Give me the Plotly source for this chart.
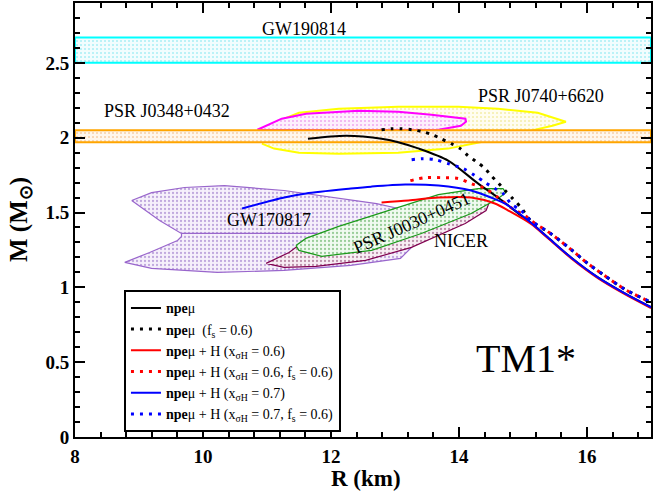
import plotly.graph_objects as go

# ---------------- data ----------------
# observational bands (M in solar masses)
gw190814_band = [2.50, 2.67]
j0348_band = [1.97, 2.05]
band_r = [8, 17]

# PSR J0740+6620 contours (R km, M)
j0740_yellow_r = [10.91, 11.11, 11.50, 12.12, 13.05, 13.99, 14.61, 15.23, 15.67, 15.46, 14.92, 14.45, 13.83, 13.05, 12.12, 11.50, 11.11, 10.92]
j0740_yellow_m = [2.007, 2.10, 2.167, 2.193, 2.207, 2.207, 2.193, 2.167, 2.107, 2.08, 2.027, 1.98, 1.927, 1.90, 1.893, 1.90, 1.927, 1.96]
j0740_magenta_r = [10.85, 11.23, 11.61, 12.43, 13.05, 13.57, 14.10, 14.11, 14.03, 13.68, 12.5, 11.5, 10.85]
j0740_magenta_m = [2.053, 2.127, 2.16, 2.18, 2.173, 2.153, 2.127, 2.107, 2.08, 2.053, 2.05, 2.05, 2.053]

# GW170817 contour (two lobes)
gw170817_r = [8.886, 9.197, 9.711, 10.333, 11.266, 12.044, 12.712, 13.054, 13.241, 13.288, 13.288, 13.085, 12.308, 11.266, 10.224, 9.197, 8.778, 9.166, 9.602, 9.664, 9.664, 9.322, 8.886]
gw170817_m = [1.58, 1.633, 1.667, 1.68, 1.647, 1.60, 1.56, 1.527, 1.48, 1.38, 1.28, 1.193, 1.147, 1.113, 1.10, 1.127, 1.167, 1.233, 1.313, 1.34, 1.36, 1.447, 1.58]
gw170817_div_r = [9.664, 11.779]
gw170817_div_m = [1.36, 1.36]

# PSR J0030+0451 contours (NICER)
j0030_maroon_r = [10.986, 11.188, 11.344, 11.453, 12.121, 13.054, 13.988, 14.454, 14.485, 14.423, 14.097, 13.257, 12.541, 11.764, 11.266, 10.986]
j0030_maroon_m = [1.16, 1.20, 1.233, 1.267, 1.367, 1.487, 1.593, 1.633, 1.58, 1.513, 1.427, 1.267, 1.18, 1.14, 1.133, 1.16]
j0030_green_r = [11.453, 11.608, 12.121, 12.899, 13.677, 14.299, 14.687, 14.734, 14.610, 14.190, 13.412, 12.634, 11.857, 11.499, 11.453]
j0030_green_m = [1.28, 1.327, 1.407, 1.513, 1.62, 1.66, 1.66, 1.633, 1.593, 1.493, 1.36, 1.247, 1.207, 1.247, 1.28]

# M-R curves
npe_r = [11.64, 12.0, 12.23, 12.5, 12.79, 13.05, 13.35, 13.83, 14.30, 14.61, 14.97, 15.12, 15.39, 15.75, 16.17, 16.59, 17.0]
npe_m = [1.993, 2.008, 2.013, 2.008, 1.993, 1.97, 1.93, 1.847, 1.693, 1.60, 1.48, 1.433, 1.333, 1.20, 1.067, 0.96, 0.867]

npe_fs_r = [12.79, 12.95, 13.10, 13.27, 13.43, 13.58, 13.72, 13.88, 14.02, 14.14, 14.27, 14.41, 14.50, 14.61, 14.72, 14.84, 14.97, 15.12, 15.43, 15.75, 16.01, 16.27, 16.59, 16.90, 17.0]
npe_fs_m = [2.053, 2.06, 2.06, 2.053, 2.04, 2.02, 1.993, 1.96, 1.927, 1.88, 1.84, 1.793, 1.747, 1.70, 1.647, 1.593, 1.533, 1.447, 1.36, 1.253, 1.16, 1.08, 0.987, 0.92, 0.90]

h06_r = [12.79, 13.21, 13.68, 14.19, 14.56, 14.77, 15.12, 15.39, 15.75, 16.17, 16.59, 17.0]
h06_m = [1.567, 1.58, 1.60, 1.60, 1.56, 1.513, 1.425, 1.328, 1.195, 1.062, 0.955, 0.862]

h06_fs_r = [13.24, 13.47, 13.72, 13.99, 14.19, 14.41, 14.61, 14.81, 15.03, 15.12, 15.43, 15.75, 16.01, 16.27, 16.59, 16.90, 17.0]
h06_fs_m = [1.713, 1.733, 1.733, 1.727, 1.693, 1.66, 1.60, 1.533, 1.48, 1.447, 1.36, 1.253, 1.16, 1.08, 0.987, 0.92, 0.90]

h07_r = [10.61, 11.27, 11.61, 12.31, 12.63, 13.16, 13.68, 14.19, 14.50, 14.72, 14.92, 15.12, 15.39, 15.75, 16.17, 16.59, 17.0]
h07_m = [1.527, 1.60, 1.627, 1.66, 1.673, 1.687, 1.68, 1.647, 1.60, 1.56, 1.50, 1.433, 1.333, 1.20, 1.067, 0.96, 0.867]

h07_fs_r = [13.26, 13.44, 13.63, 13.83, 14.07, 14.25, 14.41, 14.56, 14.69, 14.81, 14.97, 15.12, 15.43, 15.75, 16.01, 16.27, 16.59, 16.90, 17.0]
h07_fs_m = [1.853, 1.86, 1.853, 1.827, 1.793, 1.747, 1.70, 1.66, 1.627, 1.56, 1.513, 1.447, 1.36, 1.253, 1.16, 1.08, 0.987, 0.92, 0.90]

legend_names = [
    "<b>npe</b>μ",
    "<b>npe</b>μ  (f<sub>s</sub> = 0.6)",
    "<b>npe</b>μ + H (x<sub>σH</sub> = 0.6)",
    "<b>npe</b>μ + H (x<sub>σH</sub> = 0.6, f<sub>s</sub> = 0.6)",
    "<b>npe</b>μ + H (x<sub>σH</sub> = 0.7)",
    "<b>npe</b>μ + H (x<sub>σH</sub> = 0.7, f<sub>s</sub> = 0.6)",
]

SERIF = "Liberation Serif"

fig = go.Figure()


def region(xs, ys, line_color, fg, bg, lw=1.5, solidity=0.2):
    fig.add_trace(go.Scatter(
        x=xs, y=ys, mode="lines", fill="toself",
        line=dict(color=line_color, width=lw),
        fillcolor=bg,
        fillpattern=dict(shape=".", fgcolor=fg, bgcolor=bg, size=4, solidity=solidity),
        showlegend=False, hoverinfo="skip"))


# bands
region([band_r[0], band_r[1], band_r[1], band_r[0], band_r[0]],
       [gw190814_band[0], gw190814_band[0], gw190814_band[1], gw190814_band[1], gw190814_band[0]],
       "#00ffff", "#60e0ec", "#f2fdfe", 2)

# J0740 contours
region(j0740_yellow_r, j0740_yellow_m, "#ffff00", "#e8dc60", "#fffdf0", 2)
region(j0740_magenta_r, j0740_magenta_m, "#ff00ff", "#e060e0", "#fdf0fd", 2)

region([band_r[0], band_r[1], band_r[1], band_r[0], band_r[0]],
       [j0348_band[0], j0348_band[0], j0348_band[1], j0348_band[1], j0348_band[0]],
       "#ffa500", "#f0a860", "#fef6ec", 2)

# GW170817
region(gw170817_r, gw170817_m, "#9966cc", "#8a60c0", "#f6f0fb", 1.2, 0.25)
fig.add_trace(go.Scatter(x=gw170817_div_r, y=gw170817_div_m, mode="lines",
                         line=dict(color="#9966cc", width=1.2), showlegend=False, hoverinfo="skip"))

# NICER J0030
region(j0030_maroon_r, j0030_maroon_m, "#800050", "#803060", "#f8eef4", 1.2, 0.25)
region(j0030_green_r, j0030_green_m, "#1a9a1a", "#40a040", "#f0faf0", 1.2, 0.25)

# curves
DOT = "3px,6px"
curves = [
    (npe_r, npe_m, "black", "solid"),
    (npe_fs_r, npe_fs_m, "black", DOT),
    (h06_r, h06_m, "#ff0000", "solid"),
    (h06_fs_r, h06_fs_m, "#ff0000", DOT),
    (h07_r, h07_m, "#0000ff", "solid"),
    (h07_fs_r, h07_fs_m, "#0000ff", DOT),
]
for (xs, ys, col, dash), name in zip(curves, legend_names):
    fig.add_trace(go.Scatter(x=xs, y=ys, mode="lines", name=name,
                             line=dict(color=col, width=3 if dash != "solid" else 2, dash=dash, shape="spline", smoothing=0.8),
                             hoverinfo="skip"))

# annotations
def label(x, y, text, size=18, angle=0):
    fig.add_annotation(x=x, y=y, text=text, showarrow=False, textangle=angle,
                       font=dict(family=SERIF, size=size, color="black"))

label(11.58, 2.727, "GW190814")
label(9.43, 2.18, "PSR J0348+0432")
label(15.28, 2.28, "PSR J0740+6620")
label(11.03, 1.447, "GW170817")
label(14.03, 1.313, "NICER")
label(13.26, 1.427, "PSR J0030+0451", angle=-24)
label(15.05, 0.527, "TM1*", size=40)

# axis titles
fig.add_annotation(xref="paper", yref="paper", x=0.505, y=0, yshift=-41, yanchor="middle",
                   text="<b>R (km)</b>", showarrow=False,
                   font=dict(family=SERIF, size=23, color="black"))
fig.add_annotation(xref="paper", yref="paper", x=0, y=0.5, xshift=-55, xanchor="center",
                   text="<b>M (M<sub>⊙</sub>)</b>", showarrow=False, textangle=-90,
                   font=dict(family=SERIF, size=25, color="black"))

axis_common = dict(
    showline=True, linecolor="black", linewidth=2, mirror="ticks",
    ticks="inside", ticklen=10, tickwidth=2, tickcolor="black",
    showgrid=False, zeroline=False,
    tickfont=dict(family=SERIF, size=19, color="black", weight="bold"),
)

fig.update_xaxes(range=[8, 17], dtick=2, tick0=8, ticklabelstandoff=1,
                 minor=dict(dtick=0.4, tick0=8, ticks="inside", ticklen=5, tickwidth=1.5, tickcolor="black", showgrid=False),
                 **axis_common)
fig.update_yaxes(range=[0, 2.9], dtick=0.5, tick0=0,
                 minor=dict(dtick=0.1, tick0=0, ticks="inside", ticklen=5, tickwidth=1.5, tickcolor="black", showgrid=False),
                 **axis_common)

fig.update_layout(
    width=654, height=492,
    margin=dict(l=75, r=1, t=2, b=55),
    plot_bgcolor="white", paper_bgcolor="white",
    legend=dict(x=0.085, y=0.338, xanchor="left", yanchor="top",
                bordercolor="black", borderwidth=2, bgcolor="white",
                font=dict(family=SERIF, size=14, color="black"),
                tracegroupgap=0, itemwidth=30),
)

fig.write_html("out.html")
